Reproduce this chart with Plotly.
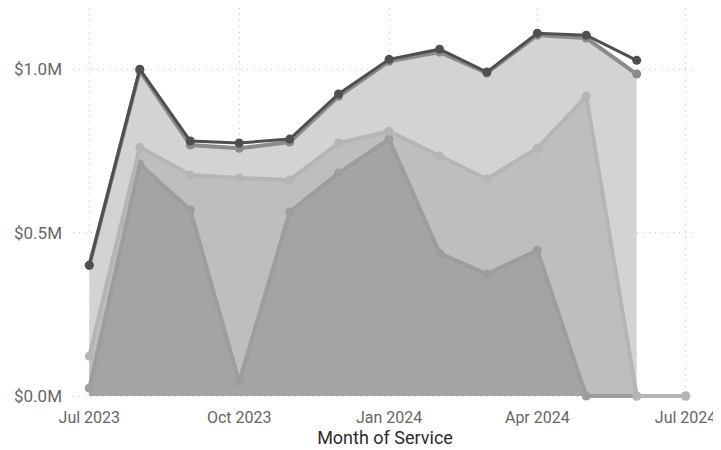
import plotly.graph_objects as go

months = ["2023-07-01", "2023-08-01", "2023-09-01", "2023-10-01", "2023-11-01", "2023-12-01",
          "2024-01-01", "2024-02-01", "2024-03-01", "2024-04-01", "2024-05-01", "2024-06-01",
          "2024-07-01"]

# values in $M
series_top = [0.40, 1.00, 0.78, 0.774, 0.786, 0.924, 1.03, 1.061, 0.991, 1.11, 1.104, 1.027, None]
series_total = [0.40, 0.995, 0.768, 0.758, 0.777, 0.917, 1.024, 1.052, 0.988, 1.104, 1.095, 0.985, None]
series_mid = [0.122, 0.761, 0.676, 0.667, 0.661, 0.774, 0.81, 0.734, 0.664, 0.758, 0.917, 0.0, 0.0]
series_low = [0.024, 0.71, 0.569, 0.043, 0.563, 0.682, 0.786, 0.437, 0.373, 0.446, 0.0, 0.0, 0.0]

y_tickvals = [0.0, 0.5, 1.0]
y_ticktext = ["$0.0M", "$0.5M", "$1.0M"]
x_tickvals = ["2023-07-01", "2023-10-01", "2024-01-01", "2024-04-01", "2024-07-01"]
x_ticktext = ["Jul 2023", "Oct 2023", "Jan 2024", "Apr 2024", "Jul 2024"]

def trim(xs, ys):
    pts = [(x, y) for x, y in zip(xs, ys) if y is not None]
    return [p[0] for p in pts], [p[1] for p in pts]

fig = go.Figure()

# fills (drawn first)
fills = [(series_total, "#d3d3d3"), (series_mid, "#bebebe"), (series_low, "#a4a4a4")]
for ys, col in fills:
    xs, yv = trim(months, ys)
    fig.add_trace(go.Scatter(x=xs, y=yv, mode="none", fill="tozeroy", fillcolor=col,
                             hoverinfo="skip", showlegend=False, cliponaxis=False))

# lines
lines = [(series_low, "#9d9d9d", 4), (series_mid, "#b5b5b5", 4), (series_total, "#8a8a8a", 4), (series_top, "#4f4f4f", 3)]
for ys, col, w in lines:
    xs, yv = trim(months, ys)
    fig.add_trace(go.Scatter(x=xs, y=yv, mode="lines+markers",
                             line=dict(color=col, width=w),
                             marker=dict(color=col, size=9),
                             showlegend=False, cliponaxis=False))

# page body has an 8px margin, so the figure is sized/offset to compensate
fig.update_layout(
    width=713, height=442,
    margin=dict(l=65, r=24, t=0, b=52, autoexpand=False),
    paper_bgcolor="white", plot_bgcolor="white",
    font=dict(family="Roboto, DejaVu Sans, sans-serif", size=16, color="#666666"),
    showlegend=False,
)
fig.update_xaxes(
    type="date",
    range=["2023-06-21", "2024-07-08"],
    tickvals=x_tickvals, ticktext=x_ticktext,
    showgrid=True, gridcolor="#c4c4c4", griddash="1px,5px", gridwidth=1,
    zeroline=False, showline=False, ticks="",
    ticklabelstandoff=8, ticklabeloverflow="allow",
    title=dict(text="Month of Service", font=dict(size=18, color="#2b2b2b"), standoff=0),
    tickfont=dict(size=16, color="#666666"),
    automargin=False,
)
fig.update_yaxes(
    range=[-0.006, 1.187],
    tickvals=y_tickvals, ticktext=y_ticktext,
    showgrid=True, gridcolor="#c4c4c4", griddash="1px,5px", gridwidth=1,
    zeroline=False, showline=False, ticks="",
    tickfont=dict(size=17, color="#666666"),
    ticklabelstandoff=10,
    automargin=False,
)

fig.write_html("out.html")
